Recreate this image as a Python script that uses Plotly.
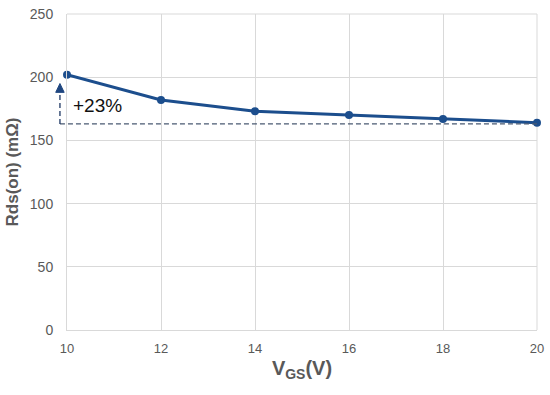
import plotly.graph_objects as go

vgs = [10, 12, 14, 16, 18, 20]
rds = [202, 182, 173, 170, 167, 164]
ref_level = 163
arrow_top = 195
x_ticks = [10, 12, 14, 16, 18, 20]
y_ticks = [0, 50, 100, 150, 200, 250]
note = "+23%"

blue = "#1c4e8d"
grid = "#d9d9d9"
txt = "#595959"
arrow_x = -0.015   # paper position, just left of the y axis
head_half = 0.009  # half width of arrow head, paper units
head_len = 7       # arrow head length, data units

fig = go.Figure()
fig.add_trace(go.Scatter(x=vgs, y=rds, mode="lines+markers",
                         line=dict(color=blue, width=3),
                         marker=dict(color=blue, size=8),
                         showlegend=False, cliponaxis=False))
fig.add_shape(type="line", xref="paper", yref="y", x0=arrow_x, x1=1,
              y0=ref_level, y1=ref_level,
              line=dict(color="#4a5a72", width=1.3, dash="5px,3px"))
fig.add_shape(type="line", xref="paper", yref="y", x0=arrow_x, x1=arrow_x,
              y0=ref_level, y1=arrow_top - head_len,
              line=dict(color="#1f3864", width=1.3, dash="5px,3px"))
fig.add_shape(type="path", xref="paper", yref="y",
              path=(f"M {arrow_x - head_half} {arrow_top - head_len} "
                    f"L {arrow_x} {arrow_top} "
                    f"L {arrow_x + head_half} {arrow_top - head_len} Z"),
              fillcolor="#1f4680", line=dict(color="#1f4680", width=1))
fig.add_annotation(x=10.08, y=178, text=note, showarrow=False, xanchor="left",
                   font=dict(size=19, color="#111111", family="Arial, Liberation Sans"))

fig.update_layout(
    width=550, height=395,
    margin=dict(l=67, r=13, t=14, b=65, autoexpand=False),
    plot_bgcolor="white", paper_bgcolor="white",
    font=dict(family="Arial, Liberation Sans", color=txt),
    xaxis=dict(range=[10, 20], tickvals=x_ticks, showgrid=True, gridcolor=grid,
               gridwidth=1, zeroline=False, showline=True, linecolor=grid,
               tickfont=dict(size=13, color=txt), ticks="outside", ticklen=6,
               tickcolor="rgba(0,0,0,0)", automargin=False,
               title=dict(text="<b>V<sub>GS</sub>(V)</b>", font=dict(size=20, color=txt),
                          standoff=6)),
    yaxis=dict(range=[0, 250], tickvals=y_ticks, showgrid=True, gridcolor=grid,
               gridwidth=1, zeroline=False, showline=True, linecolor=grid,
               tickfont=dict(size=14, color=txt), ticks="outside", ticklen=10,
               tickcolor="rgba(0,0,0,0)", automargin=False,
               title=dict(text="<b>Rds(on) (mΩ)</b>", font=dict(size=17, color=txt),
                          standoff=6)),
)
fig.add_shape(type="line", xref="paper", yref="paper", x0=1, x1=1, y0=0, y1=1,
              line=dict(color=grid, width=1), layer="below")
fig.add_shape(type="line", xref="paper", yref="paper", x0=0, x1=1, y0=1, y1=1,
              line=dict(color=grid, width=1), layer="below")
fig.write_html("out.html", config={"displayModeBar": False},
               post_script="document.body.style.margin='0';document.body.style.overflow='hidden';")
